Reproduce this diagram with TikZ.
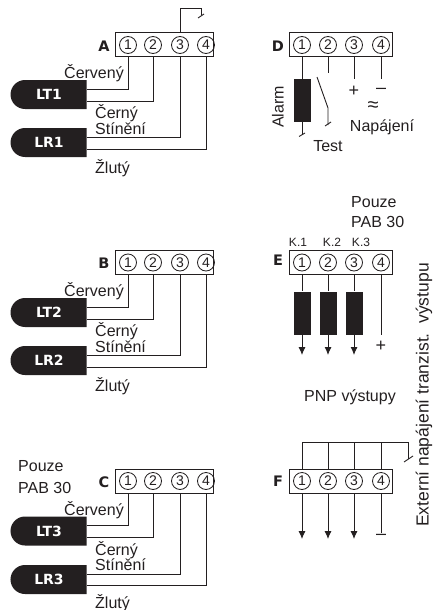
\documentclass[tikz,border=0pt]{standalone}
\usepackage{fontspec}
\setmainfont{Liberation Sans}
\newfontfamily\heavyfont{DejaVu Sans}
\usetikzlibrary{shapes.misc,arrows.meta}
\definecolor{ink}{HTML}{231F20}
\tikzset{
    termbox/.style={draw=ink,line width=1pt,fill=white,minimum width=103pt,minimum height=24pt,inner sep=0pt},
    pin/.style={draw=ink,circle,line width=0.8pt,minimum size=17pt,inner sep=0pt,text=ink,font=\fontsize{14}{14}\selectfont},
    sensor/.style={fill=ink,rounded rectangle,rounded rectangle east arc=none,minimum width=76pt,minimum height=29pt,inner sep=0pt,text=white,font=\fontsize{14}{15}\selectfont\heavyfont\bfseries},
    coil/.style={fill=ink,minimum width=17pt,inner sep=0pt},
    wire/.style={draw=ink,line width=0.9pt},
    flow/.style={wire,-{Latex[length=8pt,width=7pt]}},
    lbl/.style={inner sep=0pt,text=ink,font=\fontsize{16}{16}\selectfont},
    small/.style={lbl,font=\fontsize{12}{12}\selectfont},
    sign/.style={lbl,font=\fontsize{18}{18}\selectfont},
    letter/.style={inner sep=0pt,text=ink,font=\fontsize{14.5}{14.5}\selectfont\heavyfont\bfseries}
}
\begin{document}
\begin{tikzpicture}[x=1pt,y=-1pt]
    \useasboundingbox (0,0) rectangle (432,610);

    \node[termbox,minimum width=98pt] (terma) at (164,45) {};
    \node[pin] (a1) at (128,45) {1};
    \node[pin] (a2) at (153,45) {2};
    \node[pin] (a3) at (180,45) {3};
    \node[pin] (a4) at (206,45) {4};
    \node[letter] (la) at (104,46) {A};
    \node[sensor] (lt1) at (49,94.5) {LT1};
    \node[sensor] (lr1) at (49,142.5) {LR1};
    \node[lbl,anchor=base east] (a1t) at (124,78) {Červený};
    \node[lbl,anchor=base west] (a2t) at (95,118) {Černý};
    \node[lbl,anchor=base west] (a3t) at (95,134) {Stínění};
    \node[lbl,anchor=base west] (a4t) at (95,173) {Žlutý};
    \draw[wire] (a1 |- terma.south) |- ([yshift=5.5pt]lt1.east);
    \draw[wire] (a2 |- terma.south) |- ([yshift=-6.5pt]lt1.east);
    \draw[wire] (a3 |- terma.south) |- ([yshift=5.5pt]lr1.east);
    \draw[wire] (a4 |- terma.south) |- ([yshift=-6.5pt]lr1.east);
    \coordinate (atop) at (201,8);
    \coordinate (atip) at (201,15);
    \coordinate (atick1) at (198,18);
    \coordinate (atick2) at (204,14);
    \draw[wire] (a3 |- terma.north) |- (atop) -- (atip);
    \draw[wire] (atick1) -- (atick2);

    \node[termbox,minimum width=98pt] (termb) at (164,262.5) {};
    \node[pin] (b1) at (128,262.5) {1};
    \node[pin] (b2) at (153,262.5) {2};
    \node[pin] (b3) at (180,262.5) {3};
    \node[pin] (b4) at (206,262.5) {4};
    \node[letter] (lb) at (104,263) {B};
    \node[sensor] (lt2) at (49,312.5) {LT2};
    \node[sensor] (lr2) at (49,360.5) {LR2};
    \node[lbl,anchor=base east] (b1t) at (124,296) {Červený};
    \node[lbl,anchor=base west] (b2t) at (95,336) {Černý};
    \node[lbl,anchor=base west] (b3t) at (95,352) {Stínění};
    \node[lbl,anchor=base west] (b4t) at (95,391) {Žlutý};
    \draw[wire] (b1 |- termb.south) |- ([yshift=5.5pt]lt2.east);
    \draw[wire] (b2 |- termb.south) |- ([yshift=-6.5pt]lt2.east);
    \draw[wire] (b3 |- termb.south) |- ([yshift=5.5pt]lr2.east);
    \draw[wire] (b4 |- termb.south) |- ([yshift=-6.5pt]lr2.east);

    \node[termbox,minimum width=98pt] (termc) at (164,481) {};
    \node[pin] (c1) at (128,481) {1};
    \node[pin] (c2) at (153,481) {2};
    \node[pin] (c3) at (180,481) {3};
    \node[pin] (c4) at (206,481) {4};
    \node[letter] (lc) at (104,482) {C};
    \node[sensor] (lt3) at (49,531) {LT3};
    \node[sensor] (lr3) at (49,579.5) {LR3};
    \node[lbl,anchor=base west] (cp1) at (18,471) {Pouze};
    \node[lbl,anchor=base west] (cp2) at (18,493) {PAB 30};
    \node[lbl,anchor=base east] (c1t) at (124,515) {Červený};
    \node[lbl,anchor=base west] (c2t) at (95,555) {Černý};
    \node[lbl,anchor=base west] (c3t) at (95,570) {Stínění};
    \node[lbl,anchor=base west] (c4t) at (95,608) {Žlutý};
    \draw[wire] (c1 |- termc.south) |- ([yshift=6pt]lt3.east);
    \draw[wire] (c2 |- termc.south) |- ([yshift=-6pt]lt3.east);
    \draw[wire] (c3 |- termc.south) |- ([yshift=5.5pt]lr3.east);
    \draw[wire] (c4 |- termc.south) |- ([yshift=-5.5pt]lr3.east);

    \node[termbox] (termd) at (340.5,45) {};
    \node[pin] (d1) at (302,45) {1};
    \node[pin] (d2) at (328,45) {2};
    \node[pin] (d3) at (354,45) {3};
    \node[pin] (d4) at (381,45) {4};
    \node[letter] (ld) at (278,46) {D};
    \node[coil,minimum height=43pt] (coild) at (302,100.5) {};
    \coordinate (dend) at (302,135);
    \coordinate (dtick1) at (299,136.5);
    \coordinate (dtick2) at (305,133);
    \draw[wire] (d1 |- termd.south) -- (coild.north);
    \draw[wire] (coild.south) -- (dend);
    \draw[wire] (dtick1) -- (dtick2);
    \coordinate (dsw0) at (328,73);
    \coordinate (dsw1) at (317,77);
    \coordinate (dsw2) at (328,108);
    \coordinate (dsw3) at (328,125);
    \coordinate (dsw4) at (325,126);
    \coordinate (dsw5) at (331,122);
    \draw[wire] (d2 |- termd.south) -- (dsw0);
    \draw[wire] (dsw1) -- (dsw2) -- (dsw3);
    \draw[wire] (dsw4) -- (dsw5);
    \coordinate (dend3) at (354,79);
    \coordinate (dend4) at (381,79);
    \node[sign] (dplus) at (354,91) {+};
    \node[sign] (dminus) at (381,90.5) {–};
    \draw[wire] (d3 |- termd.south) -- (dend3);
    \draw[wire] (d4 |- termd.south) -- (dend4);
    \node[lbl,font=\fontsize{20}{20}\selectfont] (dac) at (373,107) {≈};
    \node[lbl,anchor=base] (dnap) at (382,131) {Napájení};
    \node[lbl,anchor=base] (dtest) at (328,151) {Test};
    \node[lbl,rotate=90] (dalarm) at (278,107) {Alarm};

    \node[termbox] (terme) at (340.5,262.5) {};
    \node[pin] (e1) at (302,262.5) {1};
    \node[pin] (e2) at (328,262.5) {2};
    \node[pin] (e3) at (354,262.5) {3};
    \node[pin] (e4) at (381,262.5) {4};
    \node[letter] (le) at (278,260) {E};
    \node[small] (k1) at (298,242) {K.1};
    \node[small] (k2) at (332,242) {K.2};
    \node[small] (k3) at (361,242) {K.3};
    \node[lbl,anchor=base west] (ep1) at (351,207) {Pouze};
    \node[lbl,anchor=base west] (ep2) at (351,227) {PAB 30};
    \node[coil,minimum height=43pt] (coile1) at (302,313) {};
    \node[coil,minimum height=43pt] (coile2) at (328,313) {};
    \node[coil,minimum height=43pt] (coile3) at (354,313) {};
    \coordinate (eo1) at (302,355);
    \coordinate (eo2) at (328,355);
    \coordinate (eo3) at (354,355);
    \draw[wire] (e1 |- terme.south) -- (coile1.north);
    \draw[wire] (e2 |- terme.south) -- (coile2.north);
    \draw[wire] (e3 |- terme.south) -- (coile3.north);
    \draw[flow] (coile1.south) -- (eo1);
    \draw[flow] (coile2.south) -- (eo2);
    \draw[flow] (coile3.south) -- (eo3);
    \coordinate (eend4) at (381,335);
    \node[sign] (eplus) at (381,346) {+};
    \draw[wire] (e4 |- terme.south) -- (eend4);

    \node[lbl] (pnp) at (350,397) {PNP výstupy};
    \node[lbl,rotate=90,font=\fontsize{17.5}{17.5}\selectfont] (ext) at (424,395) {Externí napájení tranzist.\ \ výstupu};

    \node[termbox] (termf) at (340.5,481) {};
    \node[pin] (f1) at (302,481) {1};
    \node[pin] (f2) at (328,481) {2};
    \node[pin] (f3) at (354,481) {3};
    \node[pin] (f4) at (381,481) {4};
    \node[letter] (lf) at (278,481) {F};
    \coordinate (fbar) at (302,442);
    \coordinate (fend) at (408,459);
    \coordinate (ftick1) at (404,462);
    \coordinate (ftick2) at (413,456);
    \draw[wire] (f1 |- termf.north) |- (fend |- fbar) -- (fend);
    \draw[wire] (f2 |- termf.north) -- (f2 |- fbar);
    \draw[wire] (f3 |- termf.north) -- (f3 |- fbar);
    \draw[wire] (f4 |- termf.north) -- (f4 |- fbar);
    \draw[wire] (ftick1) -- (ftick2);
    \coordinate (fo1) at (302,539);
    \coordinate (fo2) at (328,539);
    \coordinate (fo3) at (354,539);
    \coordinate (fend4) at (381,533);
    \node[sign] (fminus) at (381,537) {–};
    \draw[flow] (f1 |- termf.south) -- (fo1);
    \draw[flow] (f2 |- termf.south) -- (fo2);
    \draw[flow] (f3 |- termf.south) -- (fo3);
    \draw[wire] (f4 |- termf.south) -- (fend4);
\end{tikzpicture}
\end{document}
